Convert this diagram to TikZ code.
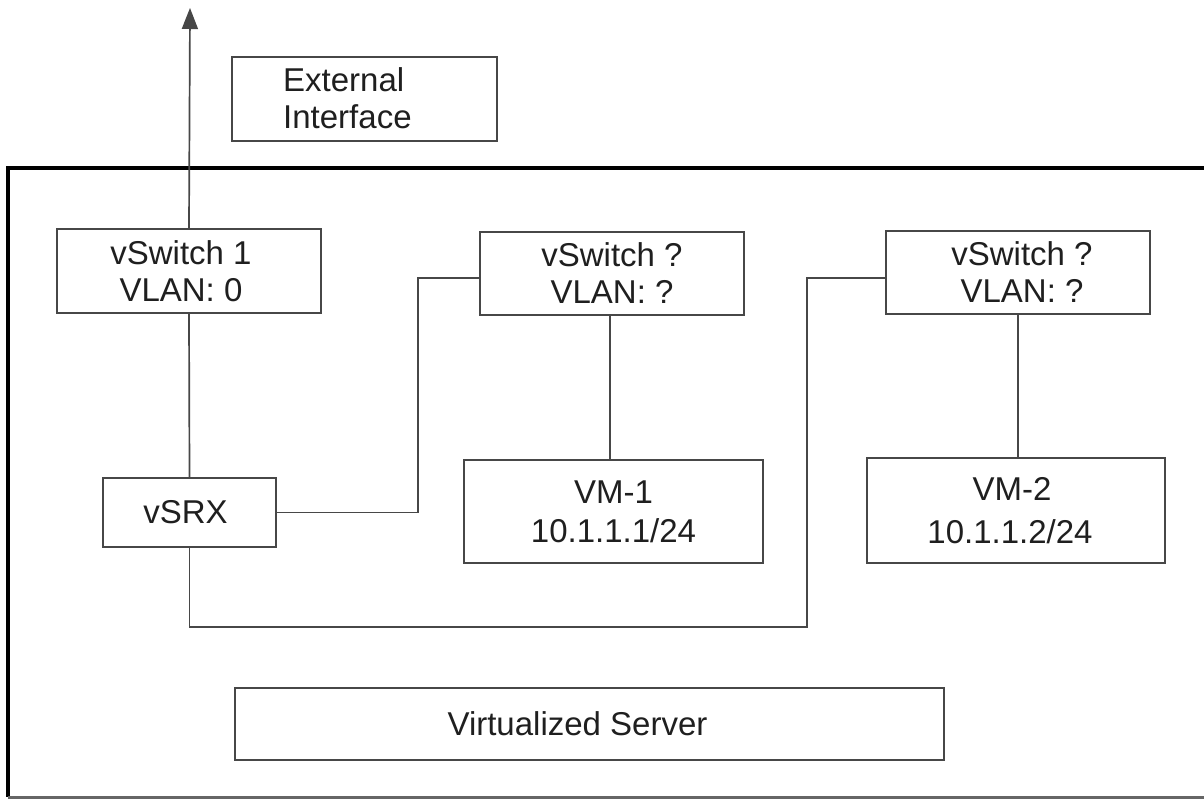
\documentclass[tikz,border=0pt]{standalone}
\usepackage{fontspec}
\setmainfont{Liberation Sans}
\usetikzlibrary{arrows.meta}
\begin{document}
\begin{tikzpicture}[x=1pt,y=-1pt,
  boxnode/.style={draw=black!72, line width=2pt, inner sep=0pt, align=center,
    font=\fontsize{33}{37}\selectfont, text=black!88},
  txtnode/.style={inner sep=0pt, font=\fontsize{33}{37}\selectfont, text=black!88},
  conn/.style={draw=black!72, line width=1.7pt},
  outer/.style={draw=black, line width=4pt}]
\useasboundingbox (0,0) rectangle (1204,799);
\clip (0,0) rectangle (1204,799);
\fill[white] (0,0) rectangle (1204,799);
% outer server frame
\draw[outer] (1215,168) -- (8,168) -- (8,797);
\draw[draw=black!60, line width=2.5pt] (8,797.5) -- (1215,797.5);
% boxes
\node[boxnode, minimum width=265pt, minimum height=84pt] (ext) at (364.5,99) {};
\node[txtnode, anchor=west, align=left] (extlabel) at (283,98) {External\\Interface};
\node[boxnode, minimum width=264pt, minimum height=84pt] (vs1) at (189,271) {vSwitch 1\hspace*{16pt}\\VLAN: 0\hspace*{16pt}};
\node[boxnode, minimum width=264pt, minimum height=83pt] (vs2) at (612,273.5) {vSwitch ?\\VLAN: ?};
\node[boxnode, minimum width=264pt, minimum height=83pt] (vs3) at (1018,272.5) {\hspace*{8pt}vSwitch ?\\\hspace*{8pt}VLAN: ?};
\node[boxnode, minimum width=173pt, minimum height=69pt] (vsrx) at (189.5,512.5) {vSRX\hspace*{8pt}};
\node[boxnode, minimum width=299pt, minimum height=103pt] (vm1) at (613.5,511.5) {VM-1\\[2pt]10.1.1.1/24};
\node[boxnode, minimum width=298pt, minimum height=105pt] (vm2) at (1016,510.5) {VM-2\hspace*{8pt}\\[6pt]10.1.1.2/24\hspace*{12pt}};
\node[boxnode, minimum width=709pt, minimum height=72pt] (vserver) at (589.5,724) {Virtualized Server\hspace*{24pt}};
% helper coordinates
\coordinate (tip) at (190,8);
% connectors
\draw[conn, -{Triangle[length=21pt,width=16pt]}] (vs1.north) -- (tip);
\draw[conn] (vs1.south) -- (vsrx.north);
\draw[conn] (vsrx.east) -| (418,278) -- (vs2.west |- 0,278);
\draw[conn] (vsrx.south) |- (807,627) |- (vs3.west |- 0,278);
\draw[conn] (vs2.south -| 610,0) -- (vm1.north -| 610,0);
\draw[conn] (vs3.south) -- (vm2.north -| vs3.south);
\end{tikzpicture}
\end{document}
